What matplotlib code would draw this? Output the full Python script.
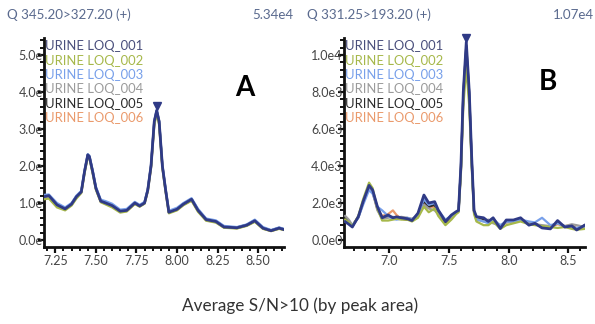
import matplotlib
matplotlib.use("Agg")
import matplotlib.pyplot as plt
from matplotlib.ticker import MultipleLocator, FixedLocator, FixedFormatter
from matplotlib.transforms import offset_copy

plt.rcParams['font.family'] = ['Lato', 'DejaVu Sans']

# Dados
names = ["URINE LOQ_001", "URINE LOQ_002", "URINE LOQ_003",
         "URINE LOQ_004", "URINE LOQ_005", "URINE LOQ_006"]
colors = ["#2f3a86", "#a6b84a", "#78a0ea", "#9b9b9b", "#2b2b2b", "#ea9a6c"]
text_colors = ["#4a4f7c", "#a6b84a", "#78a0ea", "#9b9b9b", "#2b2b2b", "#ea9a6c"]

# Painel A (tempo em min, intensidade em unidades de 1e4)
xa = [7.18, 7.21, 7.26, 7.31, 7.35, 7.38, 7.41, 7.43, 7.45, 7.46,
      7.48, 7.50, 7.53, 7.56, 7.60, 7.65, 7.69, 7.74, 7.77, 7.80,
      7.82, 7.84, 7.86, 7.875, 7.89, 7.91, 7.93, 7.95, 8.00, 8.04,
      8.09, 8.13, 8.18, 8.24, 8.29, 8.37, 8.43, 8.48, 8.53, 8.58,
      8.63, 8.66]
a001 = [1.17, 1.20, 0.95, 0.84, 0.97, 1.17, 1.30, 1.85, 2.30, 2.25,
        1.85, 1.40, 1.05, 1.00, 0.93, 0.78, 0.80, 1.00, 0.92, 1.00,
        1.35, 2.00, 3.20, 3.50, 3.20, 2.00, 1.35, 0.75, 0.83, 0.97,
        1.10, 0.80, 0.55, 0.50, 0.35, 0.33, 0.40, 0.52, 0.32, 0.25,
        0.32, 0.28]
a002 = [1.10, 1.12, 0.88, 0.80, 0.93, 1.12, 1.27, 1.80, 2.25, 2.20,
        1.80, 1.36, 1.02, 0.96, 0.88, 0.74, 0.77, 0.97, 0.90, 0.98,
        1.32, 1.95, 3.10, 3.42, 3.12, 1.95, 1.30, 0.72, 0.80, 0.94,
        1.06, 0.76, 0.52, 0.47, 0.33, 0.31, 0.38, 0.49, 0.30, 0.24,
        0.30, 0.27]
a003 = [1.22, 1.23, 1.00, 0.88, 1.00, 1.20, 1.33, 1.88, 2.32, 2.28,
        1.88, 1.44, 1.09, 1.05, 0.98, 0.82, 0.84, 1.03, 0.95, 1.03,
        1.38, 2.03, 3.22, 3.52, 3.22, 2.03, 1.38, 0.79, 0.87, 1.00,
        1.13, 0.84, 0.58, 0.53, 0.38, 0.35, 0.42, 0.55, 0.35, 0.27,
        0.34, 0.30]
a004 = [1.15, 1.18, 0.93, 0.83, 0.96, 1.15, 1.29, 1.84, 2.28, 2.24,
        1.84, 1.39, 1.04, 0.99, 0.92, 0.77, 0.79, 0.99, 0.91, 0.99,
        1.34, 1.98, 3.15, 3.46, 3.16, 1.98, 1.33, 0.74, 0.82, 0.96,
        1.08, 0.79, 0.54, 0.49, 0.34, 0.32, 0.39, 0.51, 0.31, 0.25,
        0.31, 0.28]
a005 = [1.18, 1.21, 0.96, 0.85, 0.98, 1.18, 1.31, 1.86, 2.31, 2.26,
        1.86, 1.41, 1.06, 1.01, 0.94, 0.79, 0.81, 1.01, 0.93, 1.01,
        1.36, 2.01, 3.21, 3.49, 3.21, 2.01, 1.36, 0.76, 0.84, 0.98,
        1.11, 0.81, 0.56, 0.51, 0.36, 0.34, 0.41, 0.53, 0.33, 0.26,
        0.33, 0.29]
a006 = [1.14, 1.17, 0.92, 0.82, 0.95, 1.16, 1.28, 1.83, 2.27, 2.23,
        1.83, 1.38, 1.03, 0.98, 0.91, 0.76, 0.78, 0.98, 0.91, 0.99,
        1.33, 1.97, 3.14, 3.45, 3.15, 1.97, 1.32, 0.74, 0.81, 0.95,
        1.07, 0.78, 0.53, 0.48, 0.34, 0.32, 0.39, 0.50, 0.31, 0.24,
        0.31, 0.27]

# Painel B (intensidade em unidades de 1e3)
xb = [6.63, 6.66, 6.69, 6.74, 6.78, 6.83, 6.86, 6.90, 6.94, 6.99,
      7.03, 7.06, 7.10, 7.15, 7.19, 7.24, 7.29, 7.33, 7.38, 7.41,
      7.47, 7.52, 7.56, 7.58, 7.60, 7.62, 7.645, 7.67, 7.69, 7.71,
      7.73, 7.79, 7.83, 7.87, 7.93, 7.98, 8.04, 8.10, 8.17, 8.22,
      8.28, 8.35, 8.41, 8.47, 8.53, 8.57, 8.64]
b001 = [0.99, 0.85, 0.70, 1.26, 2.07, 2.95, 2.70, 1.80, 1.20, 1.35,
        1.20, 1.25, 1.20, 1.15, 1.05, 1.45, 2.43, 2.00, 2.07, 1.62,
        1.00, 1.35, 1.53, 1.60, 4.00, 8.00, 10.70, 8.00, 4.50, 1.60,
        1.26, 1.20, 1.00, 1.20, 0.62, 1.08, 1.08, 1.20, 0.80, 0.90,
        0.65, 0.60, 1.05, 0.70, 0.76, 0.54, 0.81]
b002 = [1.10, 0.95, 0.75, 1.30, 2.20, 3.10, 2.80, 1.70, 1.05, 1.05,
        1.10, 1.15, 1.10, 1.10, 1.00, 1.20, 1.80, 1.50, 1.70, 1.30,
        0.80, 1.10, 1.40, 1.50, 3.60, 7.20, 9.35, 7.20, 4.00, 1.40,
        1.00, 0.80, 0.80, 1.00, 0.60, 0.80, 0.90, 1.00, 0.85, 0.80,
        0.75, 0.70, 0.65, 0.70, 0.60, 0.55, 0.60]
b003 = [1.00, 0.90, 0.80, 1.20, 1.90, 2.70, 2.50, 1.80, 1.60, 1.30,
        1.15, 1.10, 1.15, 1.20, 1.10, 1.40, 2.20, 1.90, 2.00, 1.60,
        1.10, 1.30, 1.50, 1.60, 3.90, 7.80, 10.40, 7.80, 4.30, 1.50,
        1.10, 1.00, 0.90, 1.10, 0.80, 1.00, 1.00, 1.10, 1.00, 0.95,
        1.20, 0.80, 0.90, 0.75, 0.70, 0.65, 0.75]
b004 = [1.30, 1.10, 0.80, 1.20, 2.00, 2.85, 2.60, 1.60, 1.15, 1.20,
        1.25, 1.20, 1.25, 1.20, 1.15, 1.30, 1.90, 1.70, 1.60, 1.40,
        1.05, 1.25, 1.45, 1.55, 3.80, 7.60, 10.20, 7.60, 4.20, 1.50,
        1.15, 1.00, 1.10, 0.90, 0.80, 0.95, 1.00, 1.05, 0.90, 0.85,
        0.80, 0.75, 0.90, 0.75, 0.85, 0.80, 0.70]
b005 = [1.20, 1.00, 0.75, 1.25, 2.05, 2.90, 2.65, 1.70, 1.20, 1.30,
        1.20, 1.20, 1.15, 1.10, 1.10, 1.35, 2.10, 1.80, 1.90, 1.50,
        0.95, 1.30, 1.50, 1.55, 3.90, 7.90, 10.50, 7.90, 4.40, 1.55,
        1.20, 1.10, 0.95, 1.15, 0.70, 1.00, 1.05, 1.10, 0.85, 0.90,
        0.70, 0.65, 0.95, 0.70, 0.75, 0.60, 0.80]
b006 = [1.05, 0.90, 0.75, 1.25, 2.00, 2.80, 2.55, 1.65, 1.30, 1.40,
        1.60, 1.35, 1.15, 1.10, 1.05, 1.30, 2.00, 1.75, 1.80, 1.45,
        1.00, 1.25, 1.45, 1.55, 3.80, 7.70, 10.30, 7.70, 4.30, 1.50,
        1.10, 1.05, 0.95, 1.05, 0.75, 0.95, 1.00, 1.05, 0.90, 0.85,
        0.75, 0.70, 0.85, 0.75, 0.80, 0.65, 0.75]

series_a = [a001, a002, a003, a004, a005, a006]
series_b = [b001, b002, b003, b004, b005, b006]

W, H = 595, 324
fig = plt.figure(figsize=(W / 100, H / 100), dpi=100)


def px_axes(left, right, top, bottom):
    return fig.add_axes([left / W, 1 - bottom / H, (right - left) / W, (bottom - top) / H])


def style_axes(ax):
    for s in ["top", "right"]:
        ax.spines[s].set_visible(False)
    for s in ["left", "bottom"]:
        ax.spines[s].set_linewidth(2)
        ax.spines[s].set_color("#111111")
    ax.tick_params(which="major", direction="out", length=4, width=1.6, color="#111111",
                   labelsize=9, labelcolor="#444444", pad=1.5)
    ax.tick_params(which="minor", direction="out", length=3, width=1.4, color="#111111")
    ax.tick_params(axis="y", pad=-3)


def draw_panel(ax, x, series, scale, xlim, ylim):
    # desenha as séries de trás para frente, 001 por cima
    for i in range(len(series) - 1, -1, -1):
        y = [v * scale for v in series[i]]
        lw = 2.0 if i == 0 else 1.6
        ax.plot(x, y, color=colors[i], lw=lw, solid_joinstyle="round", zorder=3 + (6 - i))
    y0 = [v * scale for v in series[0]]
    k = y0.index(max(y0))
    tr = offset_copy(ax.transData, fig=fig, x=0, y=3, units="points")
    ax.plot([x[k]], [y0[k]], marker="v", ms=6, color=colors[0], transform=tr, clip_on=False, zorder=20)
    ax.set_xlim(*xlim)
    ax.set_ylim(*ylim)
    for i, n in enumerate(names):
        ax.text(0.005, 0.99 - i * 0.069, n, transform=ax.transAxes, color=text_colors[i],
                fontsize=9.4, va="top", ha="left", zorder=30)


# Painel A
axA = px_axes(44, 284, 38, 247)
draw_panel(axA, xa, series_a, 1e4, (7.18, 8.66), (-0.19e4, 5.46e4))
axA.xaxis.set_major_locator(FixedLocator([7.25, 7.50, 7.75, 8.00, 8.25, 8.50]))
axA.xaxis.set_major_formatter(FixedFormatter(["7.25", "7.50", "7.75", "8.00", "8.25", "8.50"]))
axA.xaxis.set_minor_locator(MultipleLocator(0.05))
axA.yaxis.set_major_locator(FixedLocator([0, 1e4, 2e4, 3e4, 4e4, 5e4]))
axA.yaxis.set_major_formatter(FixedFormatter(["0.0e", "1.0e", "2.0e", "3.0e", "4.0e", "5.0e"]))
axA.yaxis.set_minor_locator(MultipleLocator(0.2e4))
style_axes(axA)

# Painel B
axB = px_axes(344, 585, 38, 247)
draw_panel(axB, xb, series_b, 1e3, (6.62, 8.64), (-0.38e3, 10.92e3))
axB.xaxis.set_major_locator(FixedLocator([7.0, 7.5, 8.0, 8.5]))
axB.xaxis.set_major_formatter(FixedFormatter(["7.0", "7.5", "8.0", "8.5"]))
axB.xaxis.set_minor_locator(MultipleLocator(0.1))
axB.yaxis.set_major_locator(FixedLocator([0, 2e3, 4e3, 6e3, 8e3, 10e3]))
axB.yaxis.set_major_formatter(FixedFormatter(["0.0e0", "2.0e3", "4.0e3", "6.0e3", "8.0e3", "1.0e4"]))
axB.yaxis.set_minor_locator(MultipleLocator(400))
style_axes(axB)

# Cabeçalhos
hdr = "#5a6a8e"
fig.text(7 / W, 1 - 15 / H, "Q 345.20>327.20 (+)", color=hdr, fontsize=9.6, va="center", ha="left")
fig.text(293 / W, 1 - 15 / H, "5.34e4", color=hdr, fontsize=9.6, va="center", ha="right")
fig.text(307 / W, 1 - 15 / H, "Q 331.25>193.20 (+)", color=hdr, fontsize=9.6, va="center", ha="left")
fig.text(594 / W, 1 - 15 / H, "1.07e4", color=hdr, fontsize=9.6, va="center", ha="right")

fig.text(245 / W, 1 - 88 / H, "A", fontsize=20, fontweight="bold", color="black", va="center", ha="center")
fig.text(548 / W, 1 - 82 / H, "B", fontsize=20, fontweight="bold", color="black", va="center", ha="center")

fig.text(300 / W, 1 - 306 / H, "Average S/N>10 (by peak area)", fontsize=12.3, color="#333333",
         va="center", ha="center")

fig.savefig("out.png", dpi=100)
